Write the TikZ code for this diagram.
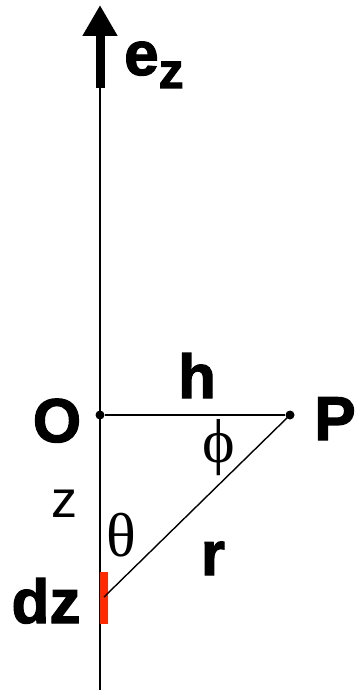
\documentclass[tikz,border=0pt]{standalone}
\usepackage{fontspec}
\setmainfont{Liberation Sans}[BoldFeatures={FakeBold=2}]
\newfontfamily\grkfont{Liberation Serif}
\usepackage{tikz}
\usetikzlibrary{arrows.meta,positioning}
\definecolor{elRed}{HTML}{FF2A00}
\tikzset{
  biglbl/.style={font=\fontsize{62}{62}\selectfont\bfseries, inner sep=0pt},
  thinlbl/.style={font=\fontsize{52}{52}\selectfont, inner sep=0pt},
  anglbl/.style={font=\fontsize{62}{62}\selectfont\grkfont, inner sep=0pt},
  axisline/.style={line width=2pt, black},
  unitvec/.style={line width=9pt, -{Triangle[length=31pt,width=33pt]}},
  geomline/.style={line width=1.4pt, black},
  dotmark/.style={circle, fill=black, inner sep=0pt, minimum size=9pt},
  element/.style={fill=elRed, draw=none}
}
\begin{document}
\begin{tikzpicture}[x=1pt,y=-1pt]
  \useasboundingbox (0,0) rectangle (356,693);
  % z axis with unit vector
  \coordinate (ztip) at (100,5);
  \coordinate (zvec) at (100,88);
  \coordinate (zbot) at (100,690);
  \draw[axisline] (zvec) -- (zbot);
  \draw[unitvec] (zvec) -- (ztip);
  \node[biglbl, anchor=base west] (ez) at (124,75) {e\raisebox{-13pt}{\fontsize{50}{50}\selectfont z}};
  % origin, field point and source element
  \node[dotmark] (O) at (100,415) {};
  \node[dotmark] (P) at (290,415) {};
  \fill[element] (100,572) rectangle (108,624);
  \coordinate (src) at (104,597);
  \draw[geomline] (O) -- (P);
  \draw[geomline] (P.center) -- (src);
  \node[biglbl, anchor=base] (Olbl) at (57,442) {O};
  \node[biglbl, anchor=base] (Plbl) at (335,440) {P};
  \node[biglbl, anchor=base] (hlbl) at (197,398) {h};
  \node[biglbl, anchor=base] (rlbl) at (213,575) {r};
  \node[biglbl, anchor=base] (dzlbl) at (46,623) {dz};
  \node[thinlbl, anchor=base] (zlbl) at (64,517) {z};
  \node[anglbl] (philbl) at (219,448) {ϕ};
  \node[anglbl] (thetalbl) at (121,535) {θ};
\end{tikzpicture}
\end{document}
